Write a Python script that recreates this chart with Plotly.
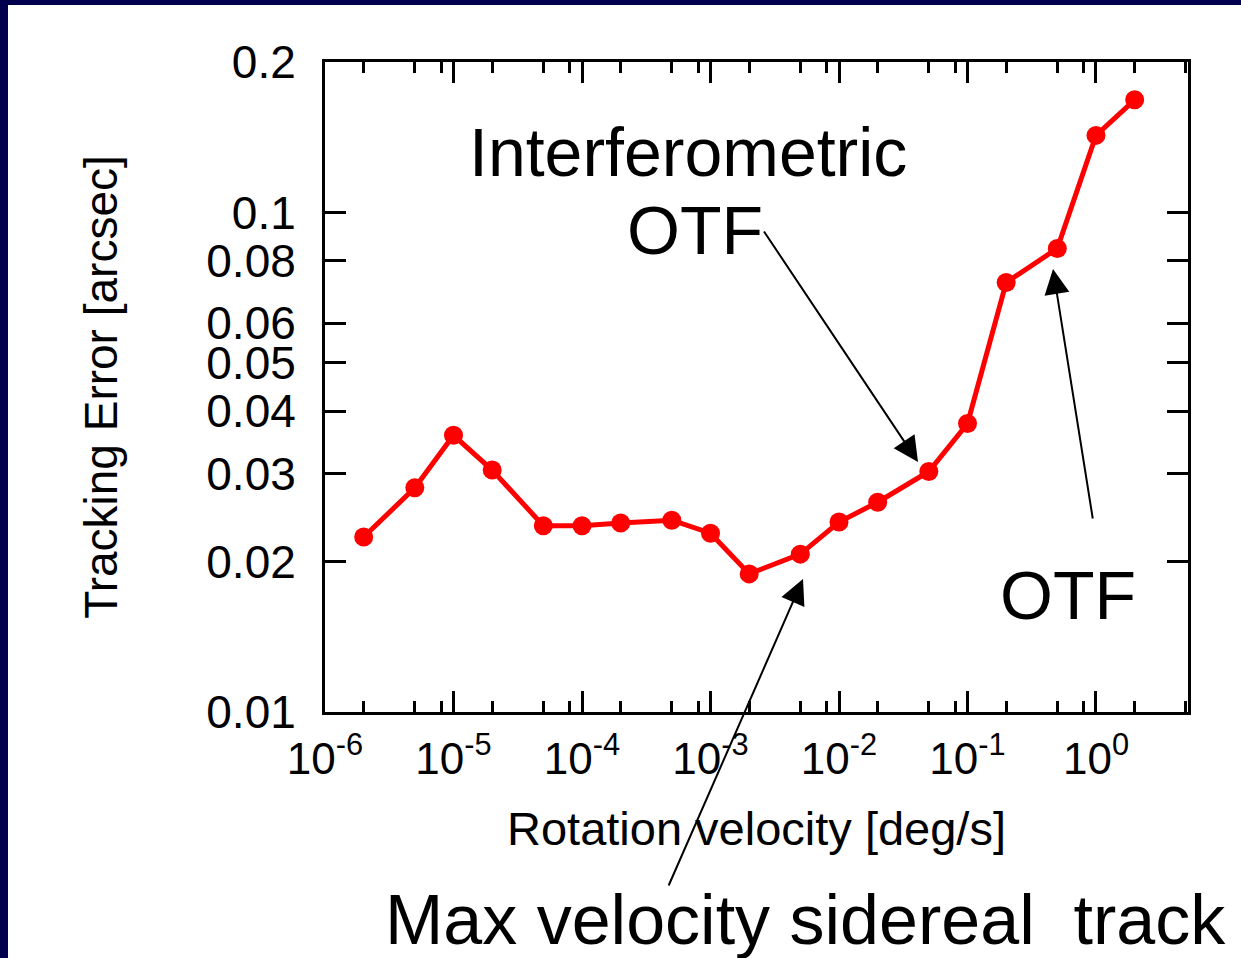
import plotly.graph_objects as go

# ---- data ----
rotation_velocity = [2e-6, 5e-6, 1e-5, 2e-5, 5e-5, 1e-4, 2e-4, 5e-4, 1e-3, 2e-3,
                     5e-3, 1e-2, 2e-2, 5e-2, 1e-1, 2e-1, 5e-1, 1.0, 2.0]
tracking_error = [0.0224, 0.0281, 0.0358, 0.0305, 0.0236, 0.0236, 0.0239, 0.0242,
                  0.0228, 0.0189, 0.0207, 0.0240, 0.0263, 0.0303, 0.0378, 0.0724,
                  0.0847, 0.1426, 0.168]

x_tickvals = [1e-6, 1e-5, 1e-4, 1e-3, 1e-2, 1e-1, 1e0]
x_ticktext = ["10<sup>-6</sup>", "10<sup>-5</sup>", "10<sup>-4</sup>", "10<sup>-3</sup>",
              "10<sup>-2</sup>", "10<sup>-1</sup>", "10<sup>0</sup>"]
x_minor = [m * 10.0 ** e for e in range(-6, 1) for m in (2, 5, 8)]
y_tickvals = [0.01, 0.02, 0.03, 0.04, 0.05, 0.06, 0.08, 0.1, 0.2]
y_ticktext = ["0.01", "0.02", "0.03", "0.04", "0.05", "0.06", "0.08", "0.1", "0.2"]

FONT = "Liberation Sans, Arial, sans-serif"
W, H = 1241, 958
L, R, T, B = 325, 1188, 62, 712


def dx(px):
    return (px - L) / (R - L)


def dy(py):
    return (B - py) / (B - T)


fig = go.Figure()
fig.add_trace(go.Scatter(
    x=rotation_velocity, y=tracking_error, mode="lines+markers",
    line=dict(color="#ff0000", width=5),
    marker=dict(color="#ff0000", size=19),
    showlegend=False,
))

axis_common = dict(
    showline=True, linecolor="black", linewidth=3, mirror="ticks",
    ticks="inside", ticklen=21, tickwidth=3, tickcolor="black",
    showgrid=False, zeroline=False,
)

fig.update_xaxes(
    type="log", range=[-6, 0.716],
    tickmode="array", tickvals=x_tickvals, ticktext=x_ticktext,
    ticklabelstandoff=6,
    tickfont=dict(family=FONT, size=44, color="black"),
    minor=dict(ticks="inside", ticklen=11, tickwidth=3, tickcolor="black",
               tickmode="array", tickvals=x_minor, showgrid=False),
    title=dict(text="Rotation velocity [deg/s]", standoff=31,
               font=dict(family=FONT, size=47, color="black")),
    **axis_common,
)
fig.update_yaxes(
    type="log", range=[-2, 0.30103 - 1],
    tickmode="array", tickvals=y_tickvals, ticktext=y_ticktext,
    ticklabelstandoff=17,
    tickfont=dict(family=FONT, size=46, color="black"),
    title=dict(text="Tracking Error [arcsec]", standoff=75,
               font=dict(family=FONT, size=46, color="black")),
    **axis_common,
)

big = dict(family=FONT, size=68, color="black")
annotations = [
    dict(text="Interferometric", x=dx(688), y=dy(152), font=big, showarrow=False),
    dict(text="OTF", x=dx(695), y=dy(230), font=big, showarrow=False),
    dict(text="OTF", x=dx(1068), y=dy(595), font=big, showarrow=False),
    dict(text="Max velocity sidereal  track", x=dx(805), y=dy(920),
         font=dict(family=FONT, size=70, color="black"), showarrow=False),
]
arrows = [((763, 230), (918, 462)), ((1093, 520), (1053, 269)), ((668, 887), (803, 579))]
for (tx, ty), (hx, hy) in arrows:
    annotations.append(dict(
        text="", x=dx(hx), y=dy(hy), ax=dx(tx), ay=dy(ty),
        axref="x domain", ayref="y domain", showarrow=True,
        arrowhead=2, arrowsize=2.5, arrowwidth=2, arrowcolor="black", standoff=0,
    ))
for a in annotations:
    a.setdefault("xref", "x domain")
    a.setdefault("yref", "y domain")
    a.setdefault("xanchor", "center")
    a.setdefault("yanchor", "middle")

fig.update_layout(
    width=W, height=H,
    margin=dict(l=L, r=W - R, t=T, b=H - B, autoexpand=False),
    paper_bgcolor="#00004f", plot_bgcolor="white",
    shapes=[dict(type="rect", xref="paper", yref="paper", layer="below",
                 x0=dx(8), x1=dx(W + 20), y0=dy(H + 20), y1=dy(5),
                 fillcolor="white", line=dict(width=0))],
    annotations=annotations,
    font=dict(family=FONT, color="black"),
)

fig.write_html("out.html")
